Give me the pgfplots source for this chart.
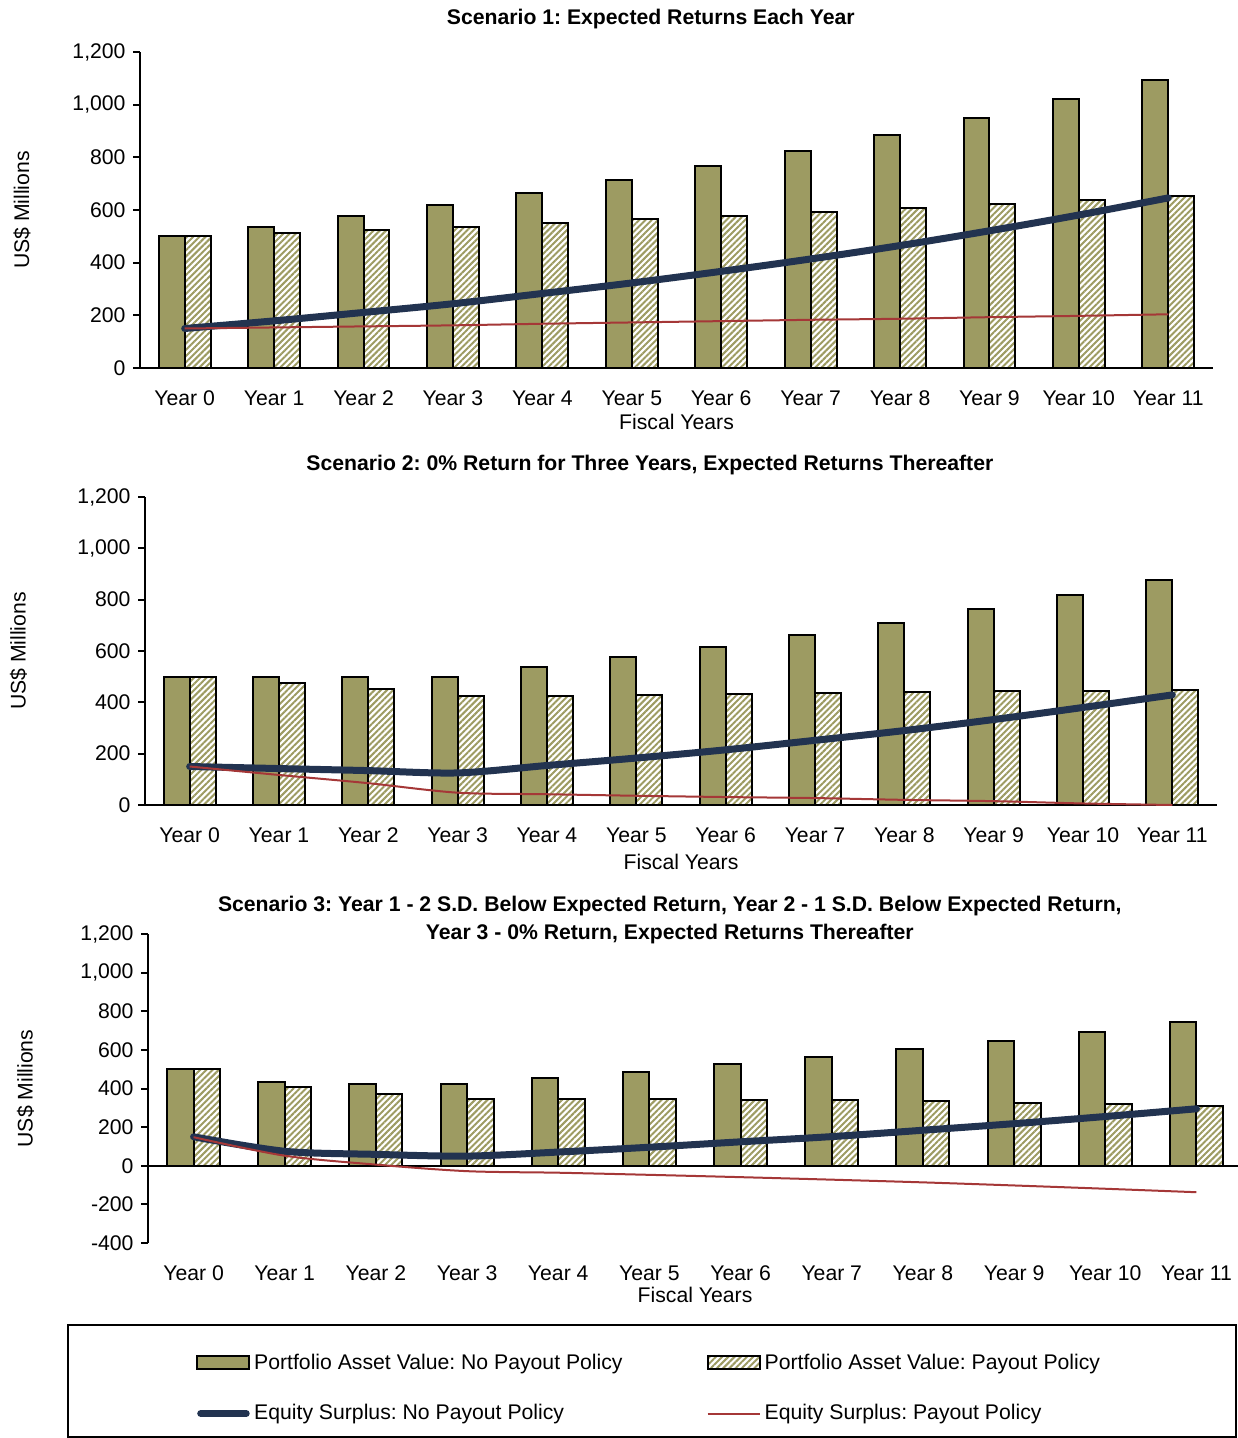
\documentclass[border=0pt]{standalone}
\usepackage{fontspec}
\setmainfont{Liberation Sans}
\usepackage{pgfplots}
\usepackage{pgfplotstable}
\pgfplotsset{compat=1.18}
\usetikzlibrary{patterns.meta}

\definecolor{olivebar}{RGB}{157,155,98}
\definecolor{surplusnavy}{RGB}{34,51,80}
\definecolor{surplusred}{RGB}{165,55,55}

% yr: fiscal year; A/B: portfolio asset value without/with payout policy;
% S/R: equity surplus without/with payout policy (US$ millions)
\pgfplotstableread{
yr A B S R
0 500 500 150 150
1 537 512 179 154
2 577 524 211 158
3 619 537 244 162
4 666 551 283 168
5 715 565 323 173
6 768 579 367 178
7 824 593 414 183
8 885 607 465 187
9 950 622 521 193
10 1020 637 581 198
11 1095 653 646 204
}\scenOne

\pgfplotstableread{
yr A B S R
0 500 500 150 150
1 500 475 142 117
2 500 451 134 85
3 500 423 125 48
4 537 425 154 42
5 575 428 183 36
6 616 432 215 31
7 662 437 252 27
8 710 440 290 20
9 762 444 333 15
10 819 445 380 6
11 878 448 429 0
}\scenTwo

\pgfplotstableread{
yr A B S R
0 500 500 150 148
1 433 408 75 52
2 425 373 59 6
3 425 347 50 -28
4 454 347 71 -36
5 488 345 96 -47
6 525 342 124 -59
7 561 338 151 -72
8 604 334 184 -86
9 647 327 218 -102
10 694 320 255 -119
11 744 311 295 -137
}\scenThree

\pgfplotsset{
  scenario/.style={
    scale only axis,
    axis x line*=bottom,
    axis y line*=left,
    axis line style={line width=1pt, black},
    xmin=-0.5, xmax=11.5,
    xtick={0,...,11},
    xticklabels={Year 0,Year 1,Year 2,Year 3,Year 4,Year 5,Year 6,Year 7,Year 8,Year 9,Year 10,Year 11},
    x tick style={draw=none},
    y tick style={line width=1pt, black},
    tick align=outside,
    major tick length=3.5pt,
    /pgf/number format/1000 sep={,},
    /pgf/number format/assume math mode=true,
    xticklabel style={yshift=-4pt},
    xlabel={Fiscal Years},
    ylabel={US\$ Millions},
    ylabel style={anchor=center},
    title style={anchor=center, font=\bfseries},
  },
  assetno/.style={ybar, bar width=0.29, bar shift=-0.145, fill=olivebar, draw=black, line width=1pt, forget plot},
  assetpay/.style={ybar, bar width=0.29, bar shift=0.145, draw=black, line width=1pt,
    pattern={Lines[angle=45,distance=2.2pt,line width=1pt]}, pattern color=olivebar, forget plot},
  surplusno/.style={surplusnavy, line width=3.5pt, line cap=round, smooth, no marks, forget plot},
  surpluspay/.style={surplusred, line width=1pt, smooth, no marks, forget plot},
}

\begin{document}
\frenchspacing
\fontsize{10.6pt}{12.7pt}\selectfont
\begin{tikzpicture}
\useasboundingbox (0,0) rectangle (618.5pt,-719pt);

% Scenario 1
\begin{axis}[scenario,
  at={(70pt,-26pt)}, anchor=north west,
  width=536.5pt, height=158pt,
  ymin=0, ymax=1200, ytick={0,200,...,1200},
  title={Scenario 1: Expected Returns Each Year},
  title style={at={(axis description cs:0.476,1.067)}},
  xlabel style={at={(axis description cs:0.5,0)}, anchor=center, yshift=-27pt},
  ylabel style={at={(axis description cs:-0.110,0.5)}},
]
\addplot[assetno] table[x=yr,y=A] {\scenOne};
\addplot[assetpay] table[x=yr,y=B] {\scenOne};
\addplot[surplusno] table[x=yr,y=S] {\scenOne};
\addplot[surpluspay] table[x=yr,y=R] {\scenOne};
\end{axis}

% Scenario 2
\begin{axis}[scenario,
  at={(72.5pt,-248.5pt)}, anchor=north west,
  width=536pt, height=154pt,
  ymin=0, ymax=1200, ytick={0,200,...,1200},
  title={Scenario 2: 0\% Return for Three Years, Expected Returns Thereafter},
  title style={at={(axis description cs:0.471,1.065)}},
  xlabel style={at={(axis description cs:0.5,0)}, anchor=center, yshift=-28.5pt},
  ylabel style={at={(axis description cs:-0.118,0.5)}},
]
\addplot[assetno] table[x=yr,y=A] {\scenTwo};
\addplot[assetpay] table[x=yr,y=B] {\scenTwo};
\addplot[surplusno] table[x=yr,y=S] {\scenTwo};
\addplot[surpluspay] table[x=yr,y=R] {\scenTwo};
\end{axis}

% Scenario 3
\begin{axis}[scenario,
  at={(74pt,-467pt)}, anchor=north west,
  width=547pt, height=154.5pt,
  ymin=-400, ymax=1200, ytick={-400,-200,...,1200},
  x axis line style={draw=none},
  title={Scenario 3: Year 1 - 2 S.D. Below Expected Return, Year 2 - 1 S.D. Below Expected Return,\\Year 3 - 0\% Return, Expected Returns Thereafter},
  title style={at={(axis description cs:0.477,1.006)}, align=center, font=\bfseries\fontsize{10.6pt}{14pt}\selectfont},
  xlabel style={at={(axis description cs:0.5,0)}, anchor=center, yshift=-26pt},
  ylabel style={at={(axis description cs:-0.112,0.5)}},
  legend columns=2,
  legend cell align=left,
  legend style={at={(axis description cs:0.459,-0.470)}, anchor=center, draw=none, fill=none,
    row sep=12pt, nodes={inner sep=2pt},
    /tikz/column 2/.style={column sep=40pt}},
]
\draw[black, line width=1pt] (-0.5,0) -- (11.5,0);
\addplot[assetno] table[x=yr,y=A] {\scenThree};
\addplot[assetpay] table[x=yr,y=B] {\scenThree};
\addplot[surplusno] table[x=yr,y=S] {\scenThree};
\addplot[surpluspay] table[x=yr,y=R] {\scenThree};

\addlegendimage{legend image code/.code={\draw[fill=olivebar,draw=black,line width=1pt] (0pt,-3pt) rectangle (26pt,3.5pt);}}
\addlegendentry{Portfolio Asset Value: No Payout Policy}
\addlegendimage{legend image code/.code={\draw[pattern={Lines[angle=45,distance=2.2pt,line width=1pt]}, pattern color=olivebar, draw=black, line width=1pt] (0pt,-3pt) rectangle (26pt,3.5pt);}}
\addlegendentry{Portfolio Asset Value: Payout Policy}
\addlegendimage{legend image code/.code={\draw[surplusnavy, line width=3.5pt, line cap=round] (1.75pt,0pt) -- (24.5pt,0pt);}}
\addlegendentry{Equity Surplus: No Payout Policy}
\addlegendimage{legend image code/.code={\draw[surplusred, line width=1pt] (0pt,0pt) -- (26pt,0pt);}}
\addlegendentry{Equity Surplus: Payout Policy}
\end{axis}

% frame around the key
\draw[line width=1pt] (34pt,-662.5pt) rectangle (618pt,-718.5pt);
\end{tikzpicture}
\end{document}
